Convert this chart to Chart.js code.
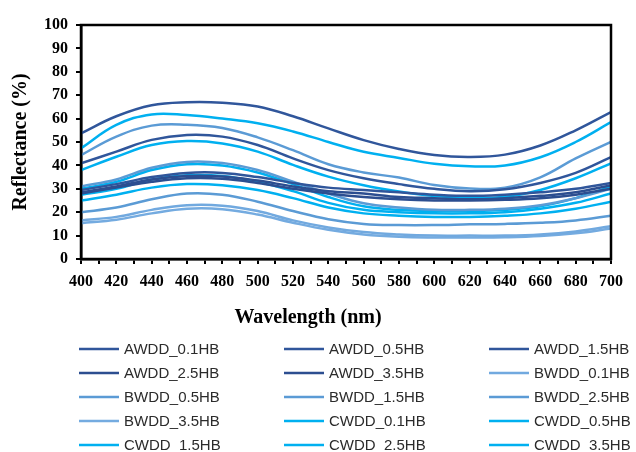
<!DOCTYPE html>
<html>
<head>
<meta charset="utf-8">
<script src="https://cdn.jsdelivr.net/npm/chart.js@4/dist/chart.umd.min.js"></script>
<style>
  html, body { margin: 0; padding: 0; background: #fff; }
  .chart-container { width: 636px; height: 452px; position: relative; }
</style>
</head>
<body>
<div class="chart-container">
  <canvas id="chart"></canvas>
</div>
<script>
// wavelengths (nm), one reading every 20 nm
const wavelengths = [400, 420, 440, 460, 480, 500, 520, 540, 560, 580, 600, 620, 640, 660, 680, 700];

const AWDD_01 = [53.7, 61.0, 65.7, 67.0, 66.8, 65.2, 61.0, 55.8, 50.8, 47.0, 44.4, 43.6, 44.6, 48.5, 55.0, 62.8];
const AWDD_05 = [40.9, 45.9, 50.9, 53.0, 52.3, 48.7, 43.0, 38.0, 34.5, 32.0, 30.0, 29.0, 29.8, 32.5, 36.8, 43.5];
const AWDD_15 = [29.5, 32.0, 35.0, 36.8, 36.8, 35.0, 32.5, 30.5, 29.5, 28.5, 27.5, 27.0, 27.5, 28.5, 30.0, 32.5];
const AWDD_25 = [28.5, 31.0, 34.0, 35.5, 35.3, 33.5, 31.0, 29.0, 28.0, 26.5, 26.0, 25.5, 26.0, 27.0, 28.5, 31.5];
const AWDD_35 = [28.0, 30.5, 33.0, 34.5, 34.3, 32.5, 30.0, 28.0, 26.5, 25.5, 25.0, 25.0, 25.3, 26.0, 27.5, 30.0];

const BWDD_01 = [16.5, 18.0, 21.0, 23.0, 22.8, 20.5, 16.5, 13.5, 11.5, 10.5, 10.0, 10.0, 10.0, 10.5, 11.8, 14.0];
const BWDD_05 = [44.4, 52.3, 57.0, 57.4, 56.0, 52.0, 46.5, 40.5, 37.0, 34.8, 31.6, 30.1, 30.5, 34.9, 43.0, 50.1];
const BWDD_15 = [31.0, 34.0, 39.0, 41.5, 41.0, 38.0, 33.0, 28.0, 23.8, 22.0, 21.0, 21.0, 21.5, 23.0, 26.0, 30.0];
const BWDD_25 = [20.0, 22.0, 25.5, 28.0, 27.5, 24.5, 20.5, 17.0, 15.0, 14.5, 14.5, 14.8, 15.0, 15.5, 16.5, 18.5];
const BWDD_35 = [15.3, 16.8, 19.5, 21.5, 21.3, 19.0, 15.5, 12.5, 10.5, 9.5, 9.2, 9.2, 9.3, 9.8, 11.0, 13.0];

const CWDD_01 = [47.3, 57.3, 61.8, 61.5, 60.0, 58.0, 54.5, 50.0, 45.8, 43.2, 40.7, 39.6, 40.0, 43.5, 50.0, 58.5];
const CWDD_05 = [38.0, 43.7, 48.7, 50.4, 49.4, 45.9, 40.2, 35.2, 31.5, 28.8, 26.9, 26.1, 26.6, 29.5, 34.5, 40.9];
const CWDD_15 = [30.0, 33.0, 38.0, 40.5, 40.0, 37.0, 32.0, 26.5, 22.5, 21.0, 20.5, 20.5, 21.0, 22.5, 26.0, 31.0];
const CWDD_25 = [27.5, 30.0, 34.0, 35.8, 35.5, 33.0, 29.0, 24.0, 21.0, 20.0, 19.5, 19.5, 20.0, 21.5, 24.0, 28.0];
const CWDD_35 = [25.0, 27.5, 30.5, 32.0, 31.5, 29.5, 26.0, 22.0, 19.5, 18.5, 18.0, 18.0, 18.5, 19.5, 21.5, 24.5];

const seriesNames = ['AWDD_0.1HB', 'AWDD_0.5HB', 'AWDD_1.5HB', 'AWDD_2.5HB', 'AWDD_3.5HB',
                     'BWDD_0.1HB', 'BWDD_0.5HB', 'BWDD_1.5HB', 'BWDD_2.5HB', 'BWDD_3.5HB',
                     'CWDD_0.1HB', 'CWDD_0.5HB', 'CWDD_1.5HB', 'CWDD_2.5HB', 'CWDD_3.5HB'];
const seriesValues = [AWDD_01, AWDD_05, AWDD_15, AWDD_25, AWDD_35,
                      BWDD_01, BWDD_05, BWDD_15, BWDD_25, BWDD_35,
                      CWDD_01, CWDD_05, CWDD_15, CWDD_25, CWDD_35];
const seriesColors = ['#30569b', '#30569b', '#30569b', '#2c4e90', '#2c4e90',
                      '#71a9df', '#5b9bd5', '#5b9bd5', '#5b9bd5', '#74abe0',
                      '#00b0f0', '#00b0f0', '#00b0f0', '#00b0f0', '#00b0f0'];

const serif = "'Liberation Serif', 'Times New Roman', serif";

// box round the plot, x title and the 3-column legend
const extras = {
  id: 'extras',
  afterDraw(chart) {
    const { ctx, chartArea: a } = chart;
    ctx.save();
    ctx.strokeStyle = '#000';
    ctx.lineWidth = 2.5;
    ctx.strokeRect(a.left, a.top, a.right - a.left, a.bottom - a.top);

    ctx.fillStyle = '#000';
    ctx.font = 'bold 20px ' + serif;
    ctx.textAlign = 'center';
    ctx.textBaseline = 'middle';
    ctx.fillText('Wavelength (nm)', 308, 318);

    const colX = [79, 284, 489];
    ctx.font = "15px 'Liberation Sans', Arial, sans-serif";
    ctx.textAlign = 'left';
    chart.data.datasets.forEach((ds, i) => {
      const x = colX[i % 3];
      const y = 349 + Math.floor(i / 3) * 24;
      ctx.strokeStyle = ds.borderColor;
      ctx.lineWidth = 2.5;
      ctx.beginPath();
      ctx.moveTo(x, y);
      ctx.lineTo(x + 40, y);
      ctx.stroke();
      ctx.fillStyle = '#2b2b2b';
      ctx.fillText(ds.label, x + 45, y + 1);
    });
    ctx.restore();
  }
};

const canvas = document.getElementById('chart');
new Chart(canvas, {
  type: 'line',
  data: {
    datasets: seriesNames.map((name, i) => ({
      label: name,
      data: wavelengths.map((w, j) => ({ x: w, y: seriesValues[i][j] })),
      borderColor: seriesColors[i],
      backgroundColor: seriesColors[i],
      borderWidth: 2.5,
      pointRadius: 0,
      fill: false,
      tension: 0.4
    }))
  },
  options: {
    responsive: true,
    maintainAspectRatio: false,
    animation: false,
    layout: { padding: { left: 6, right: 25, top: 25, bottom: 0 } },
    plugins: {
      legend: { display: false },
      tooltip: { enabled: false }
    },
    scales: {
      x: {
        type: 'linear',
        min: 400,
        max: 700,
        afterFit: (scale) => { scale.height = 193; },
        border: { color: '#000', width: 2.5 },
        grid: { drawOnChartArea: false, color: '#000', lineWidth: 2, tickLength: 5 },
        ticks: {
          stepSize: 10,
          autoSkip: false,
          maxRotation: 0,
          padding: 8,
          color: '#000',
          font: { family: serif, size: 16, weight: 'bold' },
          callback: (v) => (v % 20 === 0 ? v : '')
        }
      },
      y: {
        min: 0,
        max: 100,
        afterFit: (scale) => { scale.width = 75; },
        border: { color: '#000', width: 2.5 },
        grid: { drawOnChartArea: false, color: '#000', lineWidth: 2, tickLength: 5 },
        ticks: {
          stepSize: 10,
          padding: 8,
          color: '#000',
          font: { family: serif, size: 16, weight: 'bold' }
        },
        title: {
          display: true,
          text: 'Reflectance (%)',
          color: '#000',
          font: { family: serif, size: 20, weight: 'bold' },
          padding: { top: 3, bottom: 0 }
        }
      }
    }
  },
  plugins: [extras]
});
</script>
</body>
</html>
